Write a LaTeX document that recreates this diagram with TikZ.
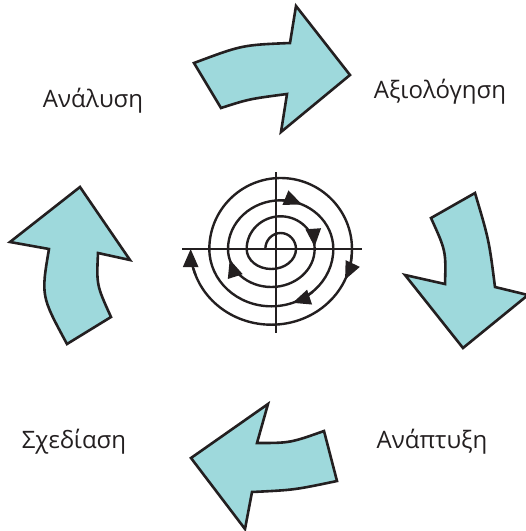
\documentclass[tikz,border=0pt]{standalone}
\usepackage{fontspec}
\setmainfont{Open Sans}
\usetikzlibrary{arrows.meta}
\definecolor{tirkuaz}{HTML}{9ED9DC}
\definecolor{mavro}{HTML}{231F20}
\begin{document}
\begin{tikzpicture}[x=1pt,y=-1pt,
  belos/.style={draw=mavro,line width=2.6pt,fill=tirkuaz,line join=miter},
  lbl/.style={font=\fontsize{24}{28}\selectfont,text=mavro,anchor=base},
  gr/.style={draw=mavro,line width=2.4pt},
  aixmi/.style={gr,-{Triangle[length=18pt,width=15pt]}}]
\useasboundingbox (0,0) rectangle (526,531);
% big arrows
\draw[belos] (194,63) .. controls (242,45) .. (290,43) -- (296,6) -- (350,75) -- (281,132) -- (287,94) .. controls (249,99) .. (221,108) -- cycle;
\draw[belos] (475,193) .. controls (489,240) .. (495,287) -- (528,295) -- (463,348) -- (405,275) -- (445,284) .. controls (446,251) .. (431,218) -- cycle;
\draw[belos] (337,481) .. controls (294,490) .. (252,492) -- (245,529) -- (191,458) -- (268,404) -- (257,443) .. controls (290,443) .. (324,431) -- cycle;
\draw[belos] (80,187) -- (10,242) -- (49,249) .. controls (41,296) .. (67,344) -- (111,317) .. controls (96.5,285) .. (98,253) -- (130,260) -- cycle;
% labels
\node[lbl] (analysi) at (93,107) {Ανάλυση};
\node[lbl] (axiologisi) at (440,98) {Αξιολόγηση};
\node[lbl] (schediasi) at (74,448) {Σχεδίαση};
\node[lbl] (anaptyxi) at (432,448) {Ανάπτυξη};
% spiral
\coordinate (U) at (280.67,249);
\coordinate (L) at (271.33,249);
\draw[gr] (182,249) -- (362,249);
\draw[gr] (276,172) -- (276,333);
\draw[gr] (265.33,249) arc[start angle=180,end angle=360,x radius=15.33,y radius=16]
  arc[start angle=0,end angle=180,x radius=24.67,y radius=20]
  arc[start angle=180,end angle=360,x radius=34,y radius=32.7]
  arc[start angle=0,end angle=180,x radius=43.33,y radius=38]
  arc[start angle=180,end angle=360,x radius=52.67,y radius=48.7]
  arc[start angle=0,end angle=180,x radius=62,y radius=57.3]
  arc[start angle=180,end angle=360,x radius=71.33,y radius=71]
  arc[start angle=0,end angle=165,x radius=80.67,y radius=75.7];
% tips on the spiral
\draw[aixmi] ([shift={(272:52.67 and 48.7)}]U) arc[start angle=272,end angle=294,x radius=52.67,y radius=48.7];
\draw[aixmi] ([shift={(325:34 and 32.7)}]U) arc[start angle=325,end angle=356,x radius=34,y radius=32.7];
\draw[aixmi] ([shift={(4:80.67 and 75.7)}]L) arc[start angle=4,end angle=24,x radius=80.67,y radius=75.7];
\draw[aixmi] ([shift={(48:62 and 57.3)}]L) arc[start angle=48,end angle=70,x radius=62,y radius=57.3];
\draw[aixmi] ([shift={(136:43.33 and 38)}]L) arc[start angle=136,end angle=164,x radius=43.33,y radius=38];
\draw[aixmi] ([shift={(160:80.67 and 75.7)}]L) arc[start angle=160,end angle=180,x radius=80.67,y radius=75.7];
\end{tikzpicture}
\end{document}
